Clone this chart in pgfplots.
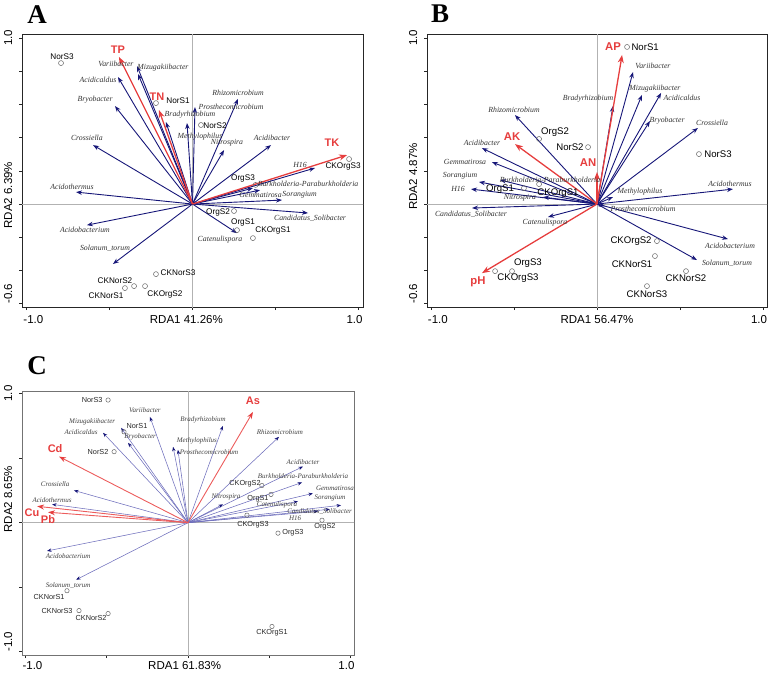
\documentclass[border=0pt]{standalone}
\usepackage{fontspec}
\setmainfont{Liberation Sans}
\newfontfamily\serif{Liberation Serif}
\usepackage{pgfplots}
\usepackage{pgfplotstable}
\pgfplotsset{compat=1.18}
\usetikzlibrary{arrows.meta}

\definecolor{navy}{RGB}{22,22,120}
\definecolor{lnavy}{RGB}{110,110,188}
\definecolor{rdared}{RGB}{230,62,62}
\definecolor{lred}{RGB}{236,92,92}
\protected\def\us{\textunderscore}

% ---------- panel A ----------
\pgfplotstableread{
x y lx ly label
-0.334 0.831 -0.461 0.843 Variibacter
-0.328 0.783 -0.178 0.819 Mizugakiibacter
-0.449 0.765 -0.569 0.747 Acidicaldus
-0.467 0.590 -0.587 0.627 Bryobacter
-0.599 0.355 -0.636 0.398 Crossiella
-0.702 0.072 -0.726 0.102 Acidothermus
-0.636 -0.127 -0.648 -0.157 Acidobacterium
-0.479 -0.361 -0.527 -0.265 Solanum\us{}torum
-0.160 0.494 -0.015 0.536 Bradyrhizobium
-0.033 0.488 0.045 0.404 Methylophilus
0.015 0.584 0.232 0.584 Prosthecomicrobium
0.274 0.633 0.274 0.669 Rhizomicrobium
0.190 0.325 0.208 0.367 Nitrospira
0.473 0.355 0.479 0.398 Acidibacter
0.738 0.217 0.648 0.235 H16
0.364 0.096 0.696 0.120 Burkholderia-Paraburkholderia
0.407 0.084 0.410 0.054 Gemmatirosa
0.539 0.024 0.645 0.054 Sorangium
0.696 -0.054 0.708 -0.084 Candidatus\us{}Solibacter
0.268 -0.175 0.166 -0.217 Catenulispora
}\spA
\pgfplotstableread{
x y lx ly label
-0.443 0.886 -0.449 0.928 TP
-0.202 0.566 -0.214 0.645 TN
0.931 0.295 0.840 0.367 TK
}\envA
\pgfplotstableread{
x y lx ly label
-0.792 0.849 -0.786 0.886 NorS3
-0.220 0.608 -0.087 0.620 NorS1
0.051 0.476 0.136 0.470 NorS2
0.943 0.271 0.907 0.229 CKOrgS3
0.380 0.115 0.304 0.151 OrgS3
0.250 -0.042 0.154 -0.048 OrgS2
0.268 -0.157 0.304 -0.114 OrgS1
0.364 -0.205 0.485 -0.157 CKOrgS1
-0.220 -0.422 -0.087 -0.416 CKNorS3
-0.352 -0.494 -0.467 -0.464 CKNorS2
-0.407 -0.506 -0.521 -0.554 CKNorS1
-0.286 -0.494 -0.166 -0.542 CKOrgS2
}\smpA

% ---------- panel B ----------
\pgfplotstableread{
x y lx ly label
-0.494 0.536 -0.500 0.566 Rhizomicrobium
-0.693 0.337 -0.693 0.367 Acidibacter
0.096 0.590 -0.054 0.633 Bradyrhizobium
0.217 0.795 0.337 0.831 Variibacter
0.271 0.657 0.349 0.693 Mizugakiibacter
0.386 0.669 0.512 0.639 Acidicaldus
0.319 0.500 0.422 0.500 Bryobacter
0.608 0.458 0.693 0.488 Crossiella
-0.633 0.253 -0.795 0.253 Gemmatirosa
-0.711 0.133 -0.825 0.169 Sorangium
-0.584 0.145 -0.283 0.145 Burkholderia-Paraburkholderia
-0.759 0.090 -0.837 0.090 H16
-0.325 0.042 -0.464 0.036 Nitrospira
-0.753 -0.024 -0.759 -0.060 Candidatus\us{}Solibacter
-0.295 -0.078 -0.313 -0.114 Catenulispora
0.096 0.042 0.259 0.072 Methylophilus
0.048 -0.012 0.277 -0.030 Prosthecomicrobium
0.819 0.090 0.801 0.120 Acidothermus
0.789 -0.211 0.801 -0.253 Acidobacterium
0.602 -0.337 0.783 -0.355 Solanum\us{}torum
}\spB
\pgfplotstableread{
x y lx ly label
0.151 0.898 0.096 0.946 AP
-0.494 0.361 -0.512 0.404 AK
0.000 0.193 -0.054 0.247 AN
-0.693 -0.416 -0.717 -0.470 pH
}\envB
\pgfplotstableread{
x y lx ly label
0.181 0.946 0.290 0.946 NorS1
-0.349 0.392 -0.253 0.434 OrgS2
-0.054 0.343 -0.163 0.343 NorS2
0.614 0.301 0.729 0.301 NorS3
-0.349 0.120 -0.235 0.066 CKOrgS1
-0.440 0.096 -0.584 0.090 OrgS1
-0.512 -0.404 -0.416 -0.355 OrgS3
-0.614 -0.404 -0.476 -0.446 CKOrgS3
0.361 -0.223 0.205 -0.223 CKOrgS2
0.349 -0.313 0.211 -0.361 CKNorS1
0.536 -0.404 0.536 -0.446 CKNorS2
0.301 -0.494 0.301 -0.542 CKNorS3
}\smpB

% ---------- panel C ----------
\pgfplotstableread{
x y lx ly label
-0.234 0.819 -0.265 0.873 Variibacter
-0.412 0.735 -0.590 0.781 Mizugakiibacter
-0.523 0.696 -0.658 0.704 Acidicaldus
-0.369 0.619 -0.295 0.665 Bryobacter
0.215 0.750 0.092 0.796 Bradyrhizobium
-0.092 0.588 0.055 0.635 Methylophilus
-0.062 0.565 0.129 0.550 Prosthecomicrobium
-0.702 0.250 -0.818 0.296 Crossiella
-0.837 0.142 -0.837 0.173 Acidothermus
-0.868 -0.219 -0.738 -0.258 Acidobacterium
-0.689 -0.442 -0.738 -0.488 Solanum\us{}torum
0.560 0.665 0.566 0.704 Rhizomicrobium
0.708 0.435 0.708 0.473 Acidibacter
0.702 0.312 0.708 0.358 Burkholderia-Paraburkholderia
0.769 0.227 0.905 0.265 Gemmatirosa
0.215 0.142 0.234 0.196 Nitrospira
0.942 0.135 0.874 0.188 Sorangium
0.874 0.104 0.810 0.085 Candidatus\us{}Solibacter
0.800 0.088 0.660 0.035 H16
0.677 0.165 0.548 0.142 Catenulispora
}\spC
\pgfplotstableread{
x y lx ly label
0.400 0.858 0.400 0.942 As
-0.794 0.512 -0.818 0.573 Cd
-0.929 0.127 -0.960 0.081 Cu
-0.862 0.081 -0.862 0.027 Pb
}\envC
\pgfplotstableread{
x y lx ly label
-0.492 0.950 -0.590 0.950 NorS3
-0.394 0.704 -0.314 0.750 NorS1
-0.455 0.550 -0.554 0.550 NorS2
0.455 0.288 0.351 0.304 CKOrgS2
0.511 0.219 0.431 0.188 OrgS1
0.363 0.058 0.400 -0.019 CKOrgS3
0.825 0.019 0.843 -0.035 OrgS2
0.554 -0.081 0.646 -0.081 OrgS3
0.517 -0.804 0.517 -0.850 CKOrgS1
-0.745 -0.527 -0.855 -0.573 CKNorS1
-0.671 -0.681 -0.806 -0.681 CKNorS3
-0.492 -0.704 -0.597 -0.742 CKNorS2
}\smpC

\pgfplotsset{
  rda/.style={
    scale only axis,
    axis line style={black!85, line width=0.7pt},
    tick align=outside, xtick pos=left, ytick pos=left,
    major tick length=3pt,
    tick style={black!85, line width=0.6pt},
    ticklabel style={font=\fontsize{11.5}{13}\selectfont},
    yticklabel style={rotate=90, anchor=base},
    yticklabel shift=7pt,
    xticklabel shift=2pt,
    xlabel style={font=\fontsize{11.5}{13}\selectfont, anchor=north, yshift=-5pt},
    ylabel style={font=\fontsize{11.5}{13}\selectfont, anchor=base},
    xtick={-1,-0.5,0,0.5,1},
    xticklabels={{\makebox[0pt][l]{\hspace{-3pt}-1.0}},{},{},{},{\makebox[0pt][r]{1.0\hspace{-4pt}}}},
  },
  zeroline/.style={gray!60, line width=0.5pt, forget plot},
  lab/.style={only marks, mark=none, point meta=explicit symbolic,
    nodes near coords={\pgfplotspointmeta}, nodes near coords align=center,
    every node near coord/.append style={inner sep=0pt, #1}},
}

\begin{document}
\begin{tikzpicture}
\useasboundingbox (0,0) rectangle (768pt,-673pt);

% ================= A =================
\begin{axis}[rda, at={(22pt,-34pt)}, anchor=north west,
  width=341pt, height=273pt,
  xmin=-1.027, xmax=1.027, ymin=-0.62, ymax=1.024,
  ytick={-0.6,-0.4,-0.2,0,0.2,0.4,0.6,0.8,1.0},
  yticklabels={{\makebox[0pt][l]{-0.6}},{},{},{},{},{},{},{},{1.0}},
  xlabel={RDA1 41.26\%}, ylabel={RDA2 6.39\%},
  xlabel style={at={(axis description cs:0.482,0)}},
  ylabel style={at={(axis description cs:-0.0293,0.41)}},
]
\addplot[zeroline] coordinates {(-2,0) (2,0)};
\addplot[zeroline] coordinates {(0,-2) (0,2)};
\addplot[navy, line width=0.9pt, -{Stealth[length=6pt,width=4.5pt]},
  quiver={u=\thisrow{x},v=\thisrow{y}}] table[x expr=0,y expr=0]{\spA};
\addplot[rdared, line width=1.3pt, -{Stealth[length=8pt,width=6pt]},
  quiver={u=\thisrow{x},v=\thisrow{y}}] table[x expr=0,y expr=0]{\envA};
\addplot[only marks, mark=o, mark size=2.5pt, black!60, mark options={line width=0.5pt}]
  table[x=x,y=y]{\smpA};
\addplot[lab={font=\serif\itshape\fontsize{7.8}{9}\selectfont, text=black!80}]
  table[x=lx,y=ly,meta=label]{\spA};
\addplot[lab={font=\bfseries\fontsize{11}{12}\selectfont, text=rdared}]
  table[x=lx,y=ly,meta=label]{\envA};
\addplot[lab={font=\fontsize{8.2}{9}\selectfont, text=black}]
  table[x=lx,y=ly,meta=label]{\smpA};
\end{axis}

% ================= B =================
\begin{axis}[rda, at={(427pt,-34pt)}, anchor=north west,
  width=340pt, height=273pt,
  xmin=-1.024, xmax=1.024, ymin=-0.62, ymax=1.024,
  ytick={-0.6,-0.4,-0.2,0,0.2,0.4,0.6,0.8,1.0},
  yticklabels={{\makebox[0pt][l]{-0.6}},{},{},{},{},{},{},{},{1.0}},
  xlabel={RDA1 56.47\%}, ylabel={RDA2 4.87\%},
  xlabel style={at={(axis description cs:0.5,0)}},
  ylabel style={at={(axis description cs:-0.0294,0.478)}},
]
\addplot[zeroline] coordinates {(-2,0) (2,0)};
\addplot[zeroline] coordinates {(0,-2) (0,2)};
\addplot[navy, line width=0.9pt, -{Stealth[length=6pt,width=4.5pt]},
  quiver={u=\thisrow{x},v=\thisrow{y}}] table[x expr=0,y expr=0]{\spB};
\addplot[rdared, line width=1.3pt, -{Stealth[length=8pt,width=6pt]},
  quiver={u=\thisrow{x},v=\thisrow{y}}] table[x expr=0,y expr=0]{\envB};
\addplot[only marks, mark=o, mark size=2.5pt, black!60, mark options={line width=0.5pt}]
  table[x=x,y=y]{\smpB};
\addplot[lab={font=\serif\itshape\fontsize{7.8}{9}\selectfont, text=black!80}]
  table[x=lx,y=ly,meta=label]{\spB};
\addplot[lab={font=\bfseries\fontsize{11.3}{12}\selectfont, text=rdared}]
  table[x=lx,y=ly,meta=label]{\envB};
\addplot[lab={font=\fontsize{9.6}{10}\selectfont, text=black}]
  table[x=lx,y=ly,meta=label]{\smpB};
\end{axis}

% ================= C =================
\begin{axis}[rda, at={(22pt,-391pt)}, anchor=north west,
  width=332pt, height=264pt,
  axis line style={black!55, line width=0.7pt},
  xticklabel shift=0pt,
  xlabel style={yshift=2pt},
  xmin=-1.022, xmax=1.022, ymin=-1.025, ymax=1.02,
  ytick={-1,-0.5,0,0.5,1},
  yticklabels={{\makebox[0pt][l]{-1.0}},{},{},{},{1.0}},
  xlabel={RDA1 61.83\%}, ylabel={RDA2 8.65\%},
  xlabel style={at={(axis description cs:0.49,0)}},
  ylabel style={at={(axis description cs:-0.0301,0.59)}},
]
\addplot[zeroline] coordinates {(-2,0) (2,0)};
\addplot[zeroline] coordinates {(0,-2) (0,2)};
\addplot[lnavy, line width=0.55pt, -{Stealth[length=4.5pt,width=3.4pt,color=navy]},
  quiver={u=\thisrow{x},v=\thisrow{y}}] table[x expr=0,y expr=0]{\spC};
\addplot[lred, line width=0.9pt, -{Stealth[length=7pt,width=5pt,color=rdared]},
  quiver={u=\thisrow{x},v=\thisrow{y}}] table[x expr=0,y expr=0]{\envC};
\addplot[only marks, mark=o, mark size=2.2pt, black!60, mark options={line width=0.5pt}]
  table[x=x,y=y]{\smpC};
\addplot[lab={font=\serif\itshape\fontsize{7}{8}\selectfont, text=black!75}]
  table[x=lx,y=ly,meta=label]{\spC};
\addplot[lab={font=\bfseries\fontsize{11}{12}\selectfont, text=rdared}]
  table[x=lx,y=ly,meta=label]{\envC};
\addplot[lab={font=\fontsize{7.3}{8}\selectfont, text=black!85}]
  table[x=lx,y=ly,meta=label]{\smpC};
\end{axis}

\node[font=\serif\bfseries\fontsize{27}{28}\selectfont] at (37pt,-15pt) {A};
\node[font=\serif\bfseries\fontsize{27}{28}\selectfont] at (440pt,-14pt) {B};
\node[font=\serif\bfseries\fontsize{27}{28}\selectfont] at (37pt,-366pt) {C};
\end{tikzpicture}
\end{document}
